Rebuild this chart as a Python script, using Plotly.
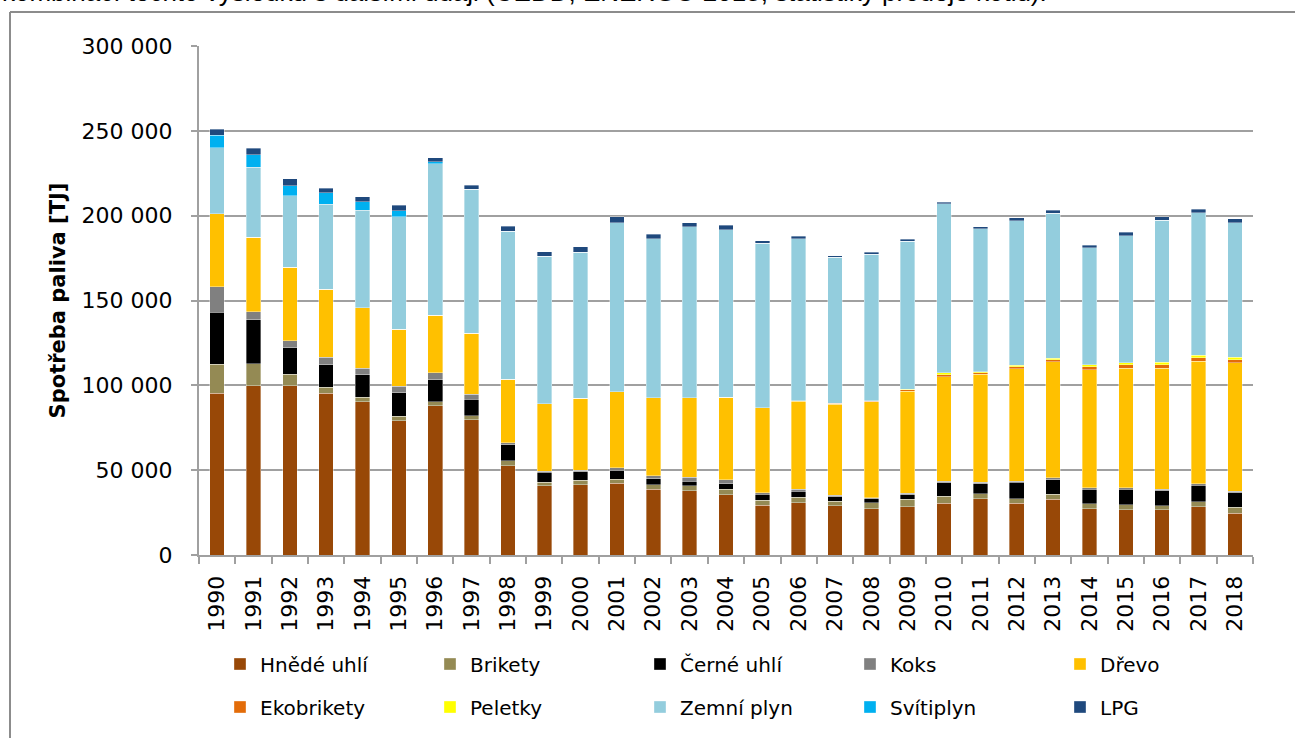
import plotly.graph_objects as go

years = [str(y) for y in range(1990, 2019)]

hnede_uhli = [95300, 99800, 99800, 95300, 90400, 79200, 88000, 79800, 52700, 40900,
              41500, 42200, 38700, 37900, 35600, 29300, 30900, 29100, 27300, 28500,
              30500, 33200, 30500, 32800, 27300, 26700, 26700, 28500, 24600]
brikety = [17100, 12800, 6700, 3700, 2500, 2500, 2400, 2300, 2900, 2100,
           2700, 2400, 2600, 2800, 3100, 3100, 3100, 2700, 3400, 4300,
           4100, 2800, 2700, 3000, 2800, 2800, 2200, 2900, 3500]
cerne_uhli = [30650, 26100, 15700, 13200, 13400, 14000, 13000, 9700, 9400, 5700,
              4900, 5300, 3700, 2900, 3400, 3400, 3700, 2600, 2500, 2800,
              8000, 5900, 9600, 8600, 8600, 9200, 9000, 9700, 8600]
koks = [15150, 4700, 4100, 4300, 3900, 3900, 3900, 2900, 1200, 800,
        1000, 1600, 1800, 2200, 2300, 900, 1000, 800, 600, 900,
        800, 900, 800, 1000, 800, 1000, 1000, 800, 1000]
drevo = [43000, 43900, 43300, 40100, 35600, 33600, 34000, 36000, 37400, 39700,
         42300, 44800, 45800, 46900, 48500, 50000, 51800, 53600, 56400, 60000,
         61700, 63700, 66200, 68600, 69800, 70500, 71300, 72300, 75700]
ekobrikety = [0, 0, 0, 0, 0, 0, 0, 0, 0, 0,
              0, 0, 0, 0, 0, 0, 300, 600, 400, 1000,
              1000, 1000, 1200, 1100, 1700, 1800, 2000, 2100, 1700]
peletky = [0, 0, 0, 0, 0, 0, 0, 0, 0, 0,
           0, 0, 0, 0, 0, 0, 0, 0, 200, 300,
           1200, 600, 800, 1000, 1000, 1200, 1400, 1400, 1400]
zemni_plyn = [38700, 41200, 42000, 50100, 57400, 66200, 89200, 84900, 87200, 86900,
              86000, 99600, 93900, 100900, 98700, 97000, 95700, 86000, 86600, 87100,
              99800, 84300, 85100, 85300, 69000, 75000, 83700, 84100, 79400]
svitiplyn = [7500, 7500, 5900, 6700, 4900, 3400, 1200, 0, 0, 0,
             0, 0, 0, 0, 0, 0, 0, 0, 0, 0,
             0, 0, 0, 0, 0, 0, 0, 0, 0]
lpg = [3500, 3700, 4200, 2750, 3100, 3300, 2500, 2300, 2900, 2700,
       3200, 3500, 2500, 2300, 2700, 1400, 1400, 1000, 1000, 1200,
       800, 1200, 2000, 1800, 1700, 2000, 2000, 2000, 2200]

series = [
    ("Hnědé uhlí", hnede_uhli, "#984807", "legend"),
    ("Brikety", brikety, "#948A54", "legend"),
    ("Černé uhlí", cerne_uhli, "#000000", "legend"),
    ("Koks", koks, "#808080", "legend"),
    ("Dřevo", drevo, "#FFC000", "legend"),
    ("Ekobrikety", ekobrikety, "#E36C09", "legend2"),
    ("Peletky", peletky, "#FFFF00", "legend2"),
    ("Zemní plyn", zemni_plyn, "#93CDDD", "legend2"),
    ("Svítiplyn", svitiplyn, "#00B0F0", "legend2"),
    ("LPG", lpg, "#1F497D", "legend2"),
]

W, H = 1295, 738
L, R, T, B = 199, 42, 46, 183
PW, PH = W - L - R, H - T - B

def px_x(x):
    return (x - L) / PW

def px_y(y):
    return (H - B - y) / PH

FONT = "DejaVu Sans"
GRID = "#A0A0A0"

fig = go.Figure()
for name, vals, color, lg in series:
    fig.add_trace(go.Bar(
        x=years, y=vals, name=name, legend=lg,
        marker=dict(color=color, line=dict(color="rgba(255,255,255,0.6)", width=0.6)),
    ))

leg_common = dict(
    orientation="h", xref="container", yref="container",
    xanchor="left", yanchor="middle",
    font=dict(family=FONT, size=20, color="#000000"),
    entrywidth=165, entrywidthmode="pixels",
    bgcolor="rgba(0,0,0,0)", itemwidth=30, traceorder="normal",
)

fig.update_layout(
    width=W, height=H,
    margin=dict(l=L, r=R, t=T, b=B, autoexpand=False),
    paper_bgcolor="white", plot_bgcolor="white",
    barmode="stack", bargap=0.6,
    separators=", ",
    font=dict(family=FONT, color="#000000"),
    showlegend=True,
    legend=dict(x=220 / W, y=1 - 664 / H, **leg_common),
    legend2=dict(x=220 / W, y=1 - 707 / H, **leg_common),
    xaxis=dict(
        type="category", tickangle=-90,
        tickfont=dict(family=FONT, size=22, color="#000000"),
        showline=True, linecolor=GRID, linewidth=2,
        ticks="outside", tickson="boundaries", ticklen=7, tickcolor=GRID, tickwidth=2,
        showgrid=False, ticklabelstandoff=10,
    ),
    yaxis=dict(
        range=[0, 300000], tickvals=[0, 50000, 100000, 150000, 200000, 250000, 300000],
        tickformat=",.0f",
        tickfont=dict(family=FONT, size=22, color="#000000"),
        showline=True, linecolor=GRID, linewidth=2,
        ticks="outside", ticklen=6, tickcolor=GRID, tickwidth=2,
        showgrid=True, gridcolor=GRID, gridwidth=2,
        zeroline=False, ticklabelstandoff=14,
        title=dict(text="Spotřeba paliva [TJ]",
                   font=dict(family=FONT, size=21, color="#000000", weight="bold"),
                   standoff=10),
    ),
    shapes=[
        dict(type="line", xref="paper", yref="paper",
             x0=px_x(10), x1=px_x(1310), y0=px_y(12), y1=px_y(12),
             line=dict(color="#8C8C8C", width=2)),
        dict(type="line", xref="paper", yref="paper",
             x0=px_x(10), x1=px_x(10), y0=px_y(12), y1=px_y(760),
             line=dict(color="#8C8C8C", width=2)),
    ],
    annotations=[
        dict(text="kombinací těchto výsledků s dalšími údaji (ČEDD, ENERGO 2015, statistiky prodeje kotlů).",
             xref="paper", yref="paper", x=px_x(0), y=px_y(9),
             xanchor="left", yanchor="bottom", showarrow=False,
             font=dict(family="Liberation Sans", size=26, color="#000000")),
    ],
)

fig.write_html(
    "out.html",
    config={"displayModeBar": False},
    post_script="document.body.style.margin='0';document.body.style.overflow='hidden';",
)
